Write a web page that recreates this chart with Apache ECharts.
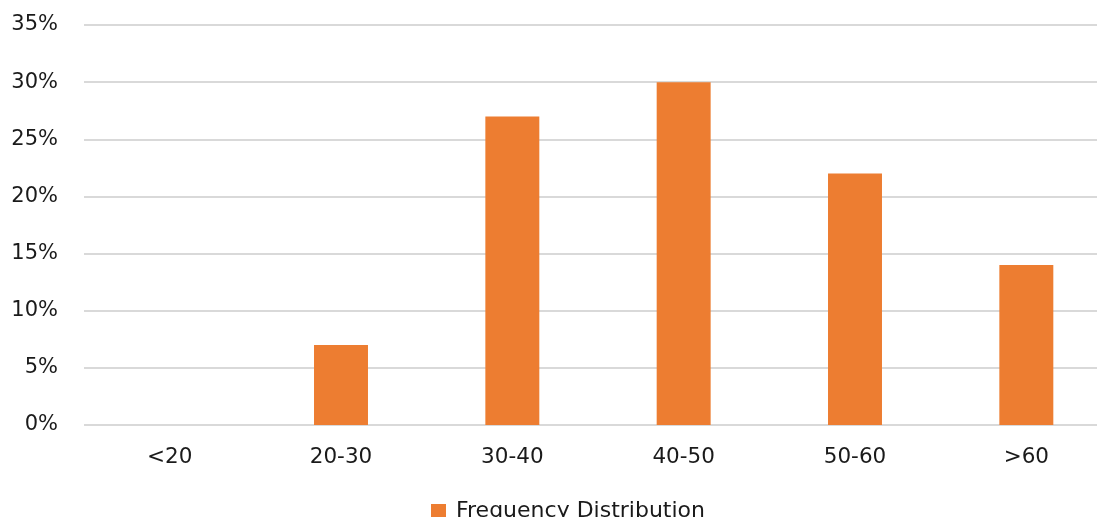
<!DOCTYPE html>
<html>
<head>
<meta charset="utf-8">
<style>
  html, body { margin: 0; padding: 0; background: #fff; overflow: hidden; }
  #chart { width: 1112px; height: 517px; }
</style>
<script src="https://cdn.jsdelivr.net/npm/echarts@6/dist/echarts.min.js"></script>
</head>
<body>
<div id="chart"></div>
<script>
// Age bands and share of respondents in each (percent)
const categories = ['<20', '20-30', '30-40', '40-50', '50-60', '>60'];
const frequency = [0, 7, 27, 30, 22, 14];
const seriesName = 'Frequency Distribution';

const FONT = '"DejaVu Sans", Verdana, sans-serif';
const chart = echarts.init(document.getElementById('chart'), null, { renderer: 'canvas' });

chart.setOption({
  animation: false,
  backgroundColor: '#ffffff',
  textStyle: { fontFamily: FONT },
  grid: { left: 84, top: 25, right: 0, bottom: 92, containLabel: false },
  legend: {
    data: [seriesName],
    left: 431,
    top: 500,
    padding: 0,
    icon: 'rect',
    itemWidth: 15,
    itemHeight: 14,
    itemGap: 10,
    textStyle: { fontFamily: FONT, fontSize: 22, color: '#1a1a1a', padding: [0, 0, 0, 5] }
  },
  xAxis: {
    type: 'category',
    data: categories,
    axisLine: { show: false },
    axisTick: { show: false },
    axisLabel: { fontFamily: FONT, fontSize: 21.5, color: '#1a1a1a', margin: 21 }
  },
  yAxis: {
    type: 'value',
    min: 0,
    max: 35,
    interval: 5,
    axisLine: { show: false },
    axisTick: { show: false },
    axisLabel: {
      fontFamily: FONT, fontSize: 21, color: '#1a1a1a', margin: 26,
      formatter: v => v + '%'
    },
    splitLine: { lineStyle: { color: '#d9d9d9', width: 2 } }
  },
  series: [{
    name: seriesName,
    type: 'bar',
    data: frequency,
    barWidth: '31.5%',
    itemStyle: { color: '#ed7d31' }
  }]
});
</script>
</body>
</html>
